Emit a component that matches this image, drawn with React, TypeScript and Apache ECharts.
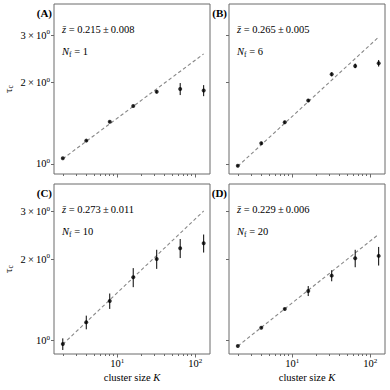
import React, { useEffect, useRef } from "react";
import * as echarts from "echarts";

// ---- data ----
const clusterSizes = [2, 4, 8, 16, 32, 64, 128];

const tauA = [1.05, 1.22, 1.434, 1.64, 1.85, 1.896, 1.87];
const errA = [0.005, 0.01, 0.01, 0.011, 0.024, 0.097, 0.088];

const tauB = [0.985, 1.193, 1.427, 1.717, 2.148, 2.307, 2.36];
const errB = [0.008, 0.015, 0.018, 0.022, 0.037, 0.045, 0.066];

const tauC = [0.972, 1.17, 1.403, 1.717, 2.007, 2.2, 2.295];
const errC = [0.048, 0.068, 0.092, 0.139, 0.163, 0.178, 0.176];

const tauD = [0.956, 1.117, 1.31, 1.528, 1.741, 2.02, 2.06];
const errD = [0.004, 0.007, 0.009, 0.065, 0.082, 0.15, 0.163];

const panelTags = ["(A)", "(B)", "(C)", "(D)"];
const zMean = ["0.215", "0.265", "0.273", "0.229"];
const zErr = ["0.008", "0.005", "0.011", "0.006"];
const nFilters = [1, 6, 10, 20];
const zSlope = [0.215, 0.265, 0.273, 0.229];
const fitAtK2 = [1.045, 0.98, 0.97, 0.955];
const fitK = [2, 128];

const xMajorTicks = [10, 100];
const xMinorTicks = [2, 3, 4, 5, 6, 7, 8, 9, 20, 30, 40, 50, 60, 70, 80, 90];
const yTicks = [1, 2, 3];

const xRange = [1.543, 154.3];
const yRangeTop = [0.918, 3.91];
const yRangeBottom = [0.893, 3.8];

const tauSets = [tauA, tauB, tauC, tauD];
const errSets = [errA, errB, errC, errD];

// ---- layout / style ----
const FONT = "Liberation Serif";
const GRIDS = [
  { left: 54, top: 4, width: 156, height: 170 },
  { left: 229, top: 4, width: 156, height: 170 },
  { left: 54, top: 184, width: 156, height: 170 },
  { left: 229, top: 184, width: 156, height: 170 },
];
const FRAME = "#6a6a6a";
const lg = Math.log10;

const supRich = {
  s: { fontFamily: FONT, fontSize: 7, verticalAlign: "top", lineHeight: 8, color: "#000" },
};
const subRich = {
  b: { fontFamily: FONT, fontSize: 7.5, verticalAlign: "bottom", lineHeight: 8, color: "#000" },
};

export default function App() {
  const ref = useRef<HTMLDivElement>(null);

  useEffect(() => {
    if (!ref.current) return;
    const chart = echarts.init(ref.current, undefined, { renderer: "svg" });

    const xAxes: any[] = [];
    const yAxes: any[] = [];
    const series: any[] = [];
    const graphics: any[] = [];

    for (let i = 0; i < 4; i++) {
      const bottomRow = i >= 2;
      const leftCol = i % 2 === 0;
      const yr = bottomRow ? yRangeBottom : yRangeTop;
      xAxes.push({
        type: "value",
        gridIndex: i,
        position: "bottom",
        min: lg(xRange[0]),
        max: lg(xRange[1]),
        axisLine: { show: false, onZero: false },
        splitLine: { show: false },
        axisTick: {
          show: true,
          customValues: xMajorTicks.map(lg),
          length: 3.5,
          lineStyle: { color: FRAME, width: 1 },
        },
        axisLabel: {
          show: bottomRow,
          customValues: xMajorTicks.map(lg),
          formatter: (v: number) => "10{s|" + Math.round(v) + "}",
          fontFamily: FONT,
          fontSize: 10.5,
          lineHeight: 13,
          color: "#000",
          margin: 3,
          rich: supRich,
        },
        name: bottomRow ? "cluster size {i|K}" : "",
        nameLocation: "middle",
        nameGap: 18,
        nameTextStyle: {
          fontFamily: FONT,
          fontSize: 10.5,
          color: "#000",
          rich: { i: { fontFamily: FONT, fontSize: 10.5, fontStyle: "italic", color: "#000" } },
        },
      });
      xAxes.push({
        type: "value",
        gridIndex: i,
        position: "bottom",
        min: lg(xRange[0]),
        max: lg(xRange[1]),
        axisLine: { show: false, onZero: false },
        splitLine: { show: false },
        axisLabel: { show: false },
        axisTick: {
          show: true,
          customValues: xMinorTicks.map(lg),
          length: 2,
          lineStyle: { color: FRAME, width: 1 },
        },
      });
      yAxes.push({
        type: "value",
        gridIndex: i,
        position: "left",
        min: lg(yr[0]),
        max: lg(yr[1]),
        axisLine: { show: false, onZero: false },
        splitLine: { show: false },
        axisTick: {
          show: true,
          customValues: yTicks.map(lg),
          length: 3,
          lineStyle: { color: FRAME, width: 1 },
        },
        axisLabel: {
          show: leftCol,
          customValues: yTicks.map(lg),
          formatter: (v: number) => {
            const m = Math.round(Math.pow(10, v));
            return m === 1 ? "10{s|0}" : m + "\u2009×\u200910{s|0}";
          },
          fontFamily: FONT,
          fontSize: 10.5,
          lineHeight: 13,
          color: "#000",
          margin: 4,
          rich: supRich,
        },
        name: leftCol ? "τ{b|c}" : "",
        nameLocation: "middle",
        nameGap: 40,
        nameRotate: 90,
        nameTextStyle: {
          fontFamily: FONT,
          fontSize: 11,
          lineHeight: 13,
          color: "#000",
          rich: subRich,
        },
      });

      const xi = i * 2;
      const tau = tauSets[i];
      const err = errSets[i];
      series.push({
        type: "line",
        xAxisIndex: xi,
        yAxisIndex: i,
        silent: true,
        symbol: "none",
        z: 1,
        lineStyle: { color: "#888", width: 1.1, type: [3.5, 2.5] },
        data: fitK.map((k) => [lg(k), lg(fitAtK2[i]) + zSlope[i] * lg(k / 2)]),
      });
      series.push({
        type: "custom",
        xAxisIndex: xi,
        yAxisIndex: i,
        coordinateSystem: "cartesian2d",
        silent: true,
        z: 3,
        encode: { x: 0, y: [1, 2] },
        data: clusterSizes.map((k, j) => [lg(k), lg(tau[j] - err[j]), lg(tau[j] + err[j])]),
        renderItem: (_p: any, api: any) => {
          const a = api.coord([api.value(0), api.value(1)]);
          const b = api.coord([api.value(0), api.value(2)]);
          return {
            type: "line",
            shape: { x1: a[0], y1: a[1], x2: b[0], y2: b[1] },
            style: { stroke: "#000", lineWidth: 1 },
          };
        },
      });
      series.push({
        type: "scatter",
        xAxisIndex: xi,
        yAxisIndex: i,
        silent: true,
        z: 4,
        symbol: "circle",
        symbolSize: 4,
        itemStyle: { color: "#000" },
        data: clusterSizes.map((k, j) => [lg(k), lg(tau[j])]),
      });

      const g = GRIDS[i];
      graphics.push({
        type: "text",
        x: g.left - 2,
        y: g.top + 9,
        style: {
          text: panelTags[i],
          fontFamily: FONT,
          fontSize: 11,
          fontWeight: "bold",
          fill: "#000",
          align: "right",
          verticalAlign: "middle",
        },
      });
      graphics.push({
        type: "text",
        x: g.left + 8,
        y: g.top + 25,
        style: {
          text: "{i|z\u0304} = " + zMean[i] + "\u2009±\u2009" + zErr[i],
          fontFamily: FONT,
          fontSize: 10.5,
          fill: "#000",
          align: "left",
          verticalAlign: "middle",
          rich: { i: { fontFamily: FONT, fontSize: 10.5, fontStyle: "italic", fill: "#000" } },
        },
      });
      graphics.push({
        type: "text",
        x: g.left + 8,
        y: g.top + 47,
        style: {
          text: "{i|N}{b|f} = " + nFilters[i],
          fontFamily: FONT,
          fontSize: 10.5,
          lineHeight: 14,
          fill: "#000",
          align: "left",
          verticalAlign: "middle",
          rich: {
            i: { fontFamily: FONT, fontSize: 10.5, fontStyle: "italic", lineHeight: 14, fill: "#000" },
            b: { fontFamily: FONT, fontSize: 7.5, verticalAlign: "bottom", lineHeight: 8, fill: "#000" },
          },
        },
      });
    }

    chart.setOption({
      animation: false,
      backgroundColor: "#fff",
      textStyle: { fontFamily: FONT },
      grid: GRIDS.map((g) => ({
        ...g,
        show: true,
        borderColor: FRAME,
        borderWidth: 1,
        backgroundColor: "transparent",
        containLabel: false,
      })),
      xAxis: xAxes,
      yAxis: yAxes,
      series,
      graphic: graphics,
    });

    return () => chart.dispose();
  }, []);

  return (
    <div
      ref={ref}
      style={{ position: "absolute", left: 0, top: 0, width: 390, height: 390 }}
    />
  );
}
